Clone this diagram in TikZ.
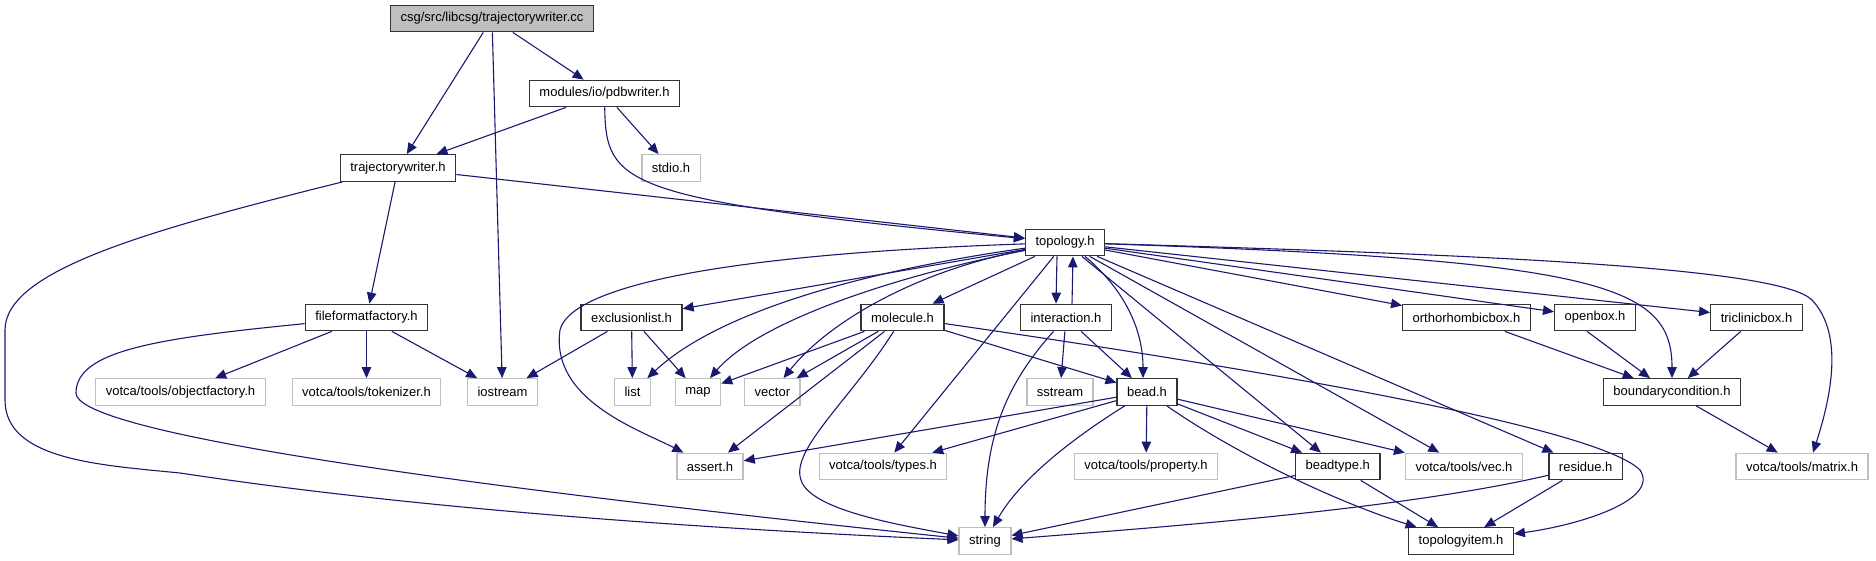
\documentclass[tikz,border=0pt]{standalone}
\usepackage{fontspec}
\setmainfont{Liberation Sans}
\usetikzlibrary{arrows.meta}

\definecolor{edgeblue}{HTML}{191970}
\definecolor{boxgray}{HTML}{BFBFBF}

\begin{document}
\begin{tikzpicture}[x=1pt, y=-1pt,
  file/.style={rectangle, line width=1.3pt, minimum height=26.5pt, inner xsep=10pt, inner ysep=0pt, fill=white, font=\fontsize{13}{15}\selectfont},
  hdr/.style={file, draw=black!80},
  sys/.style={file, draw=boxgray},
  main/.style={hdr, fill=boxgray},
  dep/.style={draw=edgeblue, line width=1.1pt, -{Triangle[length=11pt, width=9.5pt]}}]
  \useasboundingbox (0,0) rectangle (1876,560);

  \node[main] (cc) at (492,18.5) {csg/src/libcsg/trajectorywriter.cc};
  \node[hdr] (pdb) at (604.5,93.5) {modules/io/pdbwriter.h};
  \node[hdr] (trajh) at (398,168) {trajectorywriter.h};
  \node[sys] (stdio) at (671,168) {stdio.h};
  \node[hdr] (topo) at (1065,242.5) {topology.h};
  \node[hdr] (fff) at (366.5,317.5) {fileformatfactory.h};
  \node[hdr] (excl) at (631.5,317.5) {exclusionlist.h};
  \node[hdr] (mol) at (902.5,317.5) {molecule.h};
  \node[hdr] (inter) at (1066,317.5) {interaction.h};
  \node[hdr] (ortho) at (1466.5,317.5) {orthorhombicbox.h};
  \node[hdr] (openb) at (1595,317.5) {openbox.h};
  \node[hdr] (tricl) at (1756.5,317.5) {triclinicbox.h};
  \node[sys] (objf) at (180.5,392) {votca/tools/objectfactory.h};
  \node[sys] (tok) at (366.5,392) {votca/tools/tokenizer.h};
  \node[sys] (iostr) at (502.5,392) {iostream};
  \node[sys] (list) at (632.5,392) {list};
  \node[sys] (map) at (698,392) {map};
  \node[sys] (vector) at (772.4,392) {vector};
  \node[sys] (sstream) at (1060,392) {sstream};
  \node[hdr] (bead) at (1147,392) {bead.h};
  \node[hdr] (bc) at (1672,392) {boundarycondition.h};
  \node[sys] (assert) at (710,466.5) {assert.h};
  \node[sys] (types) at (883,466.5) {votca/tools/types.h};
  \node[sys] (prop) at (1146,466.5) {votca/tools/property.h};
  \node[hdr] (beadtype) at (1337.7,466.5) {beadtype.h};
  \node[sys] (vec) at (1464,466.5) {votca/tools/vec.h};
  \node[hdr] (residue) at (1585.7,466.5) {residue.h};
  \node[sys] (matrix) at (1802,466.5) {votca/tools/matrix.h};
  \node[sys] (string) at (985,541) {string};
  \node[hdr] (titem) at (1461,541) {topologyitem.h};

  \draw[dep] (cc) -- (trajh);
  \draw[dep] (cc) -- (iostr);
  \draw[dep] (cc) -- (pdb);
  \draw[dep] (pdb) -- (trajh);
  \draw[dep] (pdb) -- (stdio);
  \draw[dep] (pdb) .. controls (606,185) and (620,200) .. (topo);
  \draw[dep] (trajh) -- (topo);
  \draw[dep] (trajh) -- (fff);
  \draw[dep] (trajh) .. controls (150,230) and (5,270) .. (5,330) -- (5,400) .. controls (5,460) and (100,465) .. (180,473) .. controls (260,485) and (500,520) .. (string);

  \draw[dep] (fff) -- (objf);
  \draw[dep] (fff) -- (tok);
  \draw[dep] (fff) -- (iostr);
  \draw[dep] (fff) .. controls (160,338) and (76,350) .. (76,393) .. controls (76,430) and (400,480) .. (string);

  \draw[dep] (topo) -- (excl);
  \draw[dep] (topo) .. controls (870,270) and (720,310) .. (list);
  \draw[dep] (topo) .. controls (900,275) and (760,320) .. (map);
  \draw[dep] (topo) .. controls (920,270) and (830,320) .. (vector);
  \draw[dep] (topo) .. controls (700,255) and (570,290) .. (560,330) .. controls (550,400) and (640,430) .. (assert);
  \draw[dep] (topo) -- (mol);
  \draw[dep] (topo) -- (types);
  \draw[dep] ([xshift=-8pt]topo.south) -- ([xshift=-10pt]inter.north);
  \draw[dep] ([xshift=6pt]inter.north) -- ([xshift=8pt]topo.south);
  \draw[dep] ([xshift=20pt]topo.south) .. controls (1125,290) and (1143,330) .. ([xshift=-4pt]bead.north);
  \draw[dep] (topo) -- (beadtype);
  \draw[dep] (topo) -- (vec);
  \draw[dep] (topo) -- (residue);
  \draw[dep] (topo) -- (ortho);
  \draw[dep] (topo) -- (openb);
  \draw[dep] (topo) -- (tricl);
  \draw[dep] (topo) .. controls (1600,260) and (1672,285) .. (bc);
  \draw[dep] (topo) .. controls (1500,255) and (1780,268) .. (1812,300) .. controls (1845,335) and (1830,400) .. ([xshift=11pt]matrix.north);

  \draw[dep] (excl) -- (iostr);
  \draw[dep] (excl) -- (list);
  \draw[dep] (excl) -- (map);

  \draw[dep] (mol) -- (map);
  \draw[dep] (mol) -- (vector);
  \draw[dep] (mol) -- (assert);
  \draw[dep] (mol) .. controls (850,400) and (790,450) .. (801,480) .. controls (810,510) and (900,525) .. (string);
  \draw[dep] (mol) -- (bead);
  \draw[dep] (mol) .. controls (1300,375) and (1600,430) .. (1640,470) .. controls (1660,500) and (1580,525) .. (titem);

  \draw[dep] (inter) .. controls (1010,380) and (985,430) .. (string);
  \draw[dep] (inter) -- (sstream);
  \draw[dep] (inter) -- (bead);

  \draw[dep] (bead) -- (assert);
  \draw[dep] (bead) -- (types);
  \draw[dep] (bead) -- (prop);
  \draw[dep] (bead) .. controls (1070,440) and (1020,480) .. (string);
  \draw[dep] (bead) -- (beadtype);
  \draw[dep] (bead) -- (vec);
  \draw[dep] (bead) .. controls (1230,450) and (1330,500) .. (titem);

  \draw[dep] (beadtype) -- (string);
  \draw[dep] (beadtype) -- (titem);
  \draw[dep] (residue) .. controls (1400,510) and (1150,528) .. (string);
  \draw[dep] (residue) -- (titem);

  \draw[dep] (ortho) -- (bc);
  \draw[dep] ([xshift=-8pt]openb.south) -- ([xshift=-22pt]bc.north);
  \draw[dep] (tricl) -- (bc);
  \draw[dep] (bc) -- (matrix);
\end{tikzpicture}
\end{document}
